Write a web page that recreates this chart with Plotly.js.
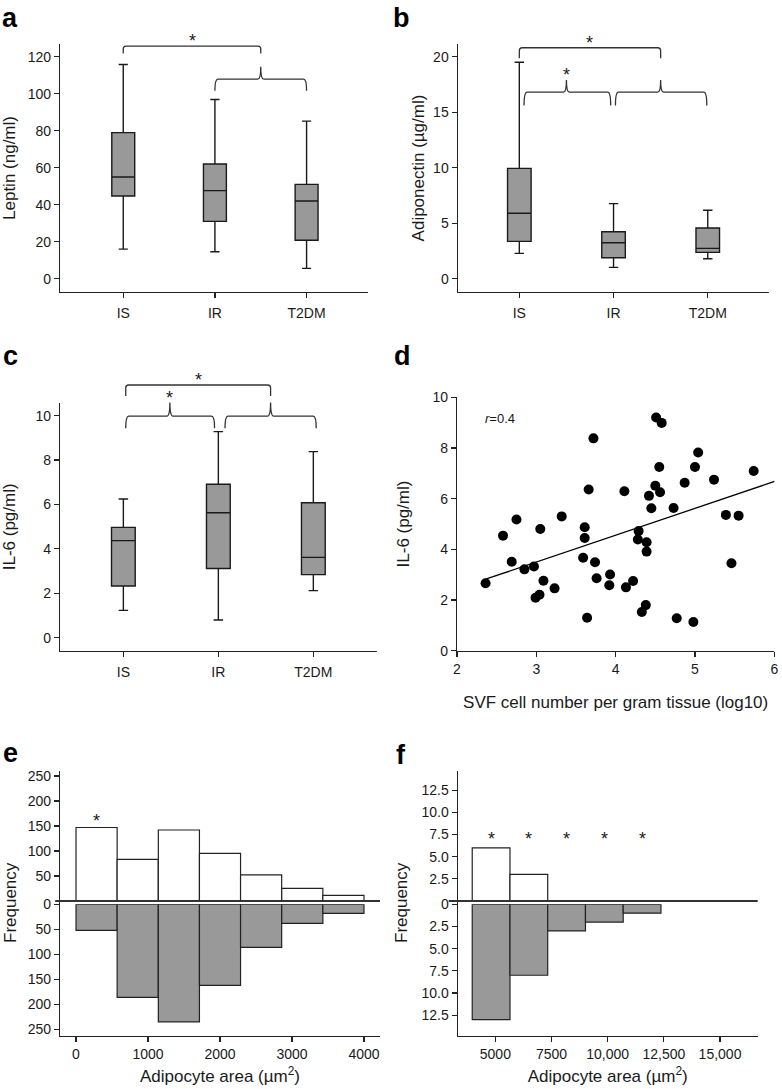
<!DOCTYPE html>
<html><head><meta charset="utf-8">
<script src="https://cdn.plot.ly/plotly-3.0.1.min.js"></script>
<style>html,body{margin:0;padding:0;background:#fff}#chart{width:782px;height:1089px}</style>
</head><body><div id="chart"></div>
<script>
// ---------- data ----------
const groups = ['IS', 'IR', 'T2DM'];

const leptinLow  = [16, 14.6, 5.6];
const leptinQ1   = [44.7, 31, 20.8];
const leptinMed  = [55, 47.6, 42];
const leptinQ3   = [79, 62, 51];
const leptinHigh = [115.8, 96.9, 85.2];

const adipoLow  = [2.28, 1.02, 1.8];
const adipoQ1   = [3.36, 1.89, 2.37];
const adipoMed  = [5.89, 3.24, 2.73];
const adipoQ3   = [9.94, 4.23, 4.56];
const adipoHigh = [19.5, 6.76, 6.16];

const il6Low  = [1.23, 0.8, 2.12];
const il6Q1   = [2.33, 3.12, 2.84];
const il6Med  = [4.37, 5.63, 3.62];
const il6Q3   = [4.97, 6.91, 6.08];
const il6High = [6.25, 9.28, 8.38];

const svfX = [2.36, 2.58, 2.75, 2.69, 2.85, 2.97, 3.05, 3.09, 2.99, 3.04, 3.23, 3.32, 3.61, 3.61, 3.59, 3.72, 3.66, 3.74, 3.76, 3.64,
              3.93, 3.92, 4.11, 4.13, 4.22, 4.29, 4.28, 4.39, 4.39, 4.38, 4.33, 4.42, 4.45, 4.50, 4.56, 4.55, 4.51, 4.58, 4.73, 4.87,
              5.00, 5.04, 4.77, 4.98, 5.24, 5.39, 5.55, 5.46, 5.74];
const svfIL6 = [2.66, 4.54, 5.18, 3.51, 3.21, 3.32, 4.80, 2.76, 2.09, 2.21, 2.46, 5.30, 4.87, 4.45, 3.67, 8.38, 6.36, 3.49, 2.86, 1.30,
                3.01, 2.58, 6.29, 2.50, 2.75, 4.72, 4.39, 4.28, 3.91, 1.80, 1.53, 6.11, 5.62, 6.51, 6.25, 7.25, 9.20, 8.99, 5.63, 6.63,
                7.25, 7.82, 1.28, 1.13, 6.75, 5.36, 5.33, 3.45, 7.09];
const fitX = [2.36, 6.06];
const fitY = [2.82, 6.74];
const rText = '<i>r</i>=0.4';

const eBinCenters = [286, 857, 1429, 2000, 2571, 3143, 3714];
const eBinWidth = 571;
const eUpper = [147, 83, 142, 95, 52, 25, 11];
const eLower = [52, 186, 235, 162, 86, 38, 18];
const eStarBins = [286];
const eTicks = [0, 1000, 2000, 3000, 4000];

const fBinCenters = [4810, 6490, 8170, 9850, 11530];
const fBinWidth = 1680;
const fUpperX = [4810, 6490];
const fUpper = [6, 3];
const fLower = [13, 8, 3, 2, 1];
const fStarBins = [4810, 6490, 8170, 9850, 11530];
const fTicks = [5000, 7500, 10000, 12500, 15000];
const fTickText = ['5000', '7500', '10,000', '12,500', '15,000'];
const fFreqTicks = [0, 2.5, 5, 7.5, 10, 12.5];
const fFreqText = ['0', '2.5', '5.0', '7.5', '10.0', '12.5'];
const eFreqTicks = [0, 50, 100, 150, 200, 250];

// ---------- geometry ----------
const W = 782, H = 1089;
const FONT = '"Liberation Sans", Arial, Helvetica, sans-serif';
const INK = '#1a1a1a';
const G = {
  a:  {x: [60, 368],     y: [44, 292],      xr: [-0.69, 2.67],  yr: [-7.2, 126.9]},
  b:  {x: [457.7, 769],  y: [44, 292],      xr: [-0.654, 2.65], yr: [-1.2, 21.14]},
  c:  {x: [60, 376.7],   y: [403, 650.7],   xr: [-0.667, 2.667], yr: [-0.585, 10.57]},
  d:  {x: [457, 774.3],  y: [397.3, 650.7], xr: [2, 6],         yr: [0, 10]},
  eU: {x: [60, 380],     y: [770.7, 904.3], xr: [-222, 4222],   yr: [-6.7, 260.6]},
  eL: {x: [60, 380],     y: [904.3, 1036],  xr: [-222, 4222],   yr: [263.4, 0]},
  fU: {x: [457.7, 757.7], y: [770.7, 904.3], xr: [3323, 16677], yr: [-0.37, 14.69]},
  fL: {x: [457.7, 757.7], y: [904.3, 1036],  xr: [3323, 16677], yr: [14.85, 0]}
};
const xd = g => [g.x[0] / W, g.x[1] / W];
const yd = g => [1 - g.y[1] / H, 1 - g.y[0] / H];
const px = (g, v) => (g.x[0] + (v - g.xr[0]) / (g.xr[1] - g.xr[0]) * (g.x[1] - g.x[0])) / W;
const py = (g, v) => 1 - (g.y[1] - (v - g.yr[0]) / (g.yr[1] - g.yr[0]) * (g.y[1] - g.y[0])) / H;

// ---------- traces ----------
function boxTrace(low, q1, med, q3, high, xa, ya) {
  return {type: 'box', x: groups, q1: q1, median: med, q3: q3, lowerfence: low, upperfence: high,
    xaxis: xa, yaxis: ya, width: 0.25, whiskerwidth: 0.4, fillcolor: '#999999',
    line: {color: INK, width: 1.4}, boxpoints: false, hoverinfo: 'skip', showlegend: false};
}
const barLine = {color: '#222', width: 1.2};
const traces = [
  boxTrace(leptinLow, leptinQ1, leptinMed, leptinQ3, leptinHigh, 'x', 'y'),
  boxTrace(adipoLow, adipoQ1, adipoMed, adipoQ3, adipoHigh, 'x2', 'y2'),
  boxTrace(il6Low, il6Q1, il6Med, il6Q3, il6High, 'x3', 'y3'),
  {type: 'scatter', mode: 'markers', x: svfX, y: svfIL6, xaxis: 'x4', yaxis: 'y4',
   marker: {color: '#000', size: 10}, cliponaxis: false, showlegend: false, hoverinfo: 'skip'},
  {type: 'scatter', mode: 'lines', x: fitX, y: fitY, xaxis: 'x4', yaxis: 'y4',
   line: {color: '#000', width: 1.3}, showlegend: false, hoverinfo: 'skip'},
  {type: 'bar', x: eBinCenters, y: eUpper, width: eBinWidth, xaxis: 'x5', yaxis: 'y5',
   marker: {color: '#ffffff', line: barLine}, showlegend: false, hoverinfo: 'skip'},
  {type: 'bar', x: eBinCenters, y: eLower, width: eBinWidth, xaxis: 'x5', yaxis: 'y6',
   marker: {color: '#999999', line: barLine}, showlegend: false, hoverinfo: 'skip'},
  {type: 'bar', x: fUpperX, y: fUpper, width: fBinWidth, xaxis: 'x7', yaxis: 'y7',
   marker: {color: '#ffffff', line: barLine}, showlegend: false, hoverinfo: 'skip'},
  {type: 'bar', x: fBinCenters, y: fLower, width: fBinWidth, xaxis: 'x7', yaxis: 'y8',
   marker: {color: '#999999', line: barLine}, showlegend: false, hoverinfo: 'skip'}
];

// ---------- axes ----------
const base = {showline: true, linecolor: '#222', linewidth: 1.2, ticks: 'outside', ticklen: 5, tickwidth: 1.2,
  tickcolor: '#222', showgrid: false, zeroline: false, fixedrange: true,
  tickfont: {family: FONT, size: 14, color: INK}};
const ttl = (t, s) => ({text: t, font: {family: FONT, size: 17, color: INK}, standoff: s});

const layout = {
  width: W, height: H, margin: {l: 0, r: 0, t: 0, b: 0}, paper_bgcolor: '#fff', plot_bgcolor: 'rgba(0,0,0,0)',
  showlegend: false, barmode: 'overlay', font: {family: FONT, color: INK},
  xaxis:  Object.assign({}, base, {domain: xd(G.a), range: G.a.xr, anchor: 'y', type: 'category', ticklabelstandoff: 3}),
  yaxis:  Object.assign({}, base, {domain: yd(G.a), range: G.a.yr, anchor: 'x', dtick: 20, title: ttl('Leptin (ng/ml)', 8)}),
  xaxis2: Object.assign({}, base, {domain: xd(G.b), range: G.b.xr, anchor: 'y2', type: 'category', ticklabelstandoff: 3}),
  yaxis2: Object.assign({}, base, {domain: yd(G.b), range: G.b.yr, anchor: 'x2', dtick: 5, title: ttl('Adiponectin (\u00b5g/ml)', 4)}),
  xaxis3: Object.assign({}, base, {domain: xd(G.c), range: G.c.xr, anchor: 'y3', type: 'category', ticklabelstandoff: 3}),
  yaxis3: Object.assign({}, base, {domain: yd(G.c), range: G.c.yr, anchor: 'x3', dtick: 2, title: ttl('IL-6 (pg/ml)', 16)}),
  xaxis4: Object.assign({}, base, {domain: xd(G.d), range: G.d.xr, anchor: 'y4', dtick: 1,
          title: ttl('SVF cell number per gram tissue (log10)', 20)}),
  yaxis4: Object.assign({}, base, {domain: yd(G.d), range: G.d.yr, anchor: 'x4', dtick: 2, title: ttl('IL-6 (pg/ml)', 18)}),
  xaxis5: Object.assign({}, base, {domain: xd(G.eL), range: G.eL.xr, anchor: 'y6', tickvals: eTicks,
          title: ttl('Adipocyte area (\u00b5m<sup>2</sup>)', 9)}),
  yaxis5: Object.assign({}, base, {domain: yd(G.eU), range: G.eU.yr, anchor: 'x5', tickvals: eFreqTicks.slice(1)}),
  yaxis6: Object.assign({}, base, {domain: yd(G.eL), range: G.eL.yr, anchor: 'x5', tickvals: eFreqTicks}),
  xaxis7: Object.assign({}, base, {domain: xd(G.fL), range: G.fL.xr, anchor: 'y8', tickvals: fTicks, ticktext: fTickText,
          title: ttl('Adipocyte area (\u00b5m<sup>2</sup>)', 9)}),
  yaxis7: Object.assign({}, base, {domain: yd(G.fU), range: G.fU.yr, anchor: 'x7', tickvals: fFreqTicks.slice(1), ticktext: fFreqText.slice(1)}),
  yaxis8: Object.assign({}, base, {domain: yd(G.fL), range: G.fL.yr, anchor: 'x7', tickvals: fFreqTicks, ticktext: fFreqText}),
  shapes: [], annotations: []
};

// ---------- brackets & annotations ----------
const brackets = [
  {g: 'a', kind: 'sq', x1: 0,     x2: 1.5,  bar: 125.8, end: 121.8, star: true},
  {g: 'a', kind: 'cb', x1: 1,     x2: 2,    xm: 1.5,  bar: 107.9, end: 101.6, tip: 114.6, star: false},
  {g: 'b', kind: 'sq', x1: 0,     x2: 1.5,  bar: 20.8,  end: 19.85, star: true},
  {g: 'b', kind: 'cb', x1: 0.05,  x2: 0.97, xm: 0.5,  bar: 16.8,  end: 15.6,  tip: 17.9, star: true},
  {g: 'b', kind: 'cb', x1: 1.02,  x2: 1.99, xm: 1.5,  bar: 16.8,  end: 15.6,  tip: 17.9, star: false},
  {g: 'c', kind: 'sq', x1: 0.025, x2: 1.55, bar: 11.38, end: 10.89, star: true},
  {g: 'c', kind: 'cb', x1: 0.025, x2: 0.96, xm: 0.49, bar: 9.98,  end: 9.43,  tip: 10.59, star: true},
  {g: 'c', kind: 'cb', x1: 1.07,  x2: 2.03, xm: 1.55, bar: 9.98,  end: 9.43,  tip: 10.59, star: false}
];
const rx = 3 / W, ry = 3 / H;
const starFont = {family: FONT, size: 18, color: INK};
brackets.forEach(b => {
  const g = G[b.g];
  const X1 = px(g, b.x1), X2 = px(g, b.x2), YB = py(g, b.bar), YE = py(g, b.end);
  let path, sx, sy;
  if (b.kind === 'sq') {
    path = `M ${X1},${YE} L ${X1},${YB - ry} Q ${X1},${YB} ${X1 + rx},${YB} L ${X2 - rx},${YB} Q ${X2},${YB} ${X2},${YB - ry} L ${X2},${YE}`;
    sx = (X1 + X2) / 2; sy = YB;
  } else {
    const XM = px(g, b.xm), YT = py(g, b.tip);
    path = `M ${X1},${YE} Q ${X1},${YB} ${X1 + rx},${YB} L ${XM - rx},${YB} Q ${XM},${YB} ${XM},${YT} ` +
           `Q ${XM},${YB} ${XM + rx},${YB} L ${X2 - rx},${YB} Q ${X2},${YB} ${X2},${YE}`;
    sx = XM; sy = YT;
  }
  layout.shapes.push({type: 'path', xref: 'paper', yref: 'paper', path: path, line: {color: '#333', width: 1.3}});
  if (b.star) {
    layout.annotations.push({xref: 'paper', yref: 'paper', x: sx, y: sy + 10 / H, text: '*', showarrow: false,
      xanchor: 'center', yanchor: 'middle', yshift: -5, font: starFont});
  }
});

// baselines in the mirrored histograms
[['eU', -0.015], ['fU', -0.03]].forEach(([k, ext]) => {
  const g = G[k];
  const y0 = py(g, 0);
  layout.shapes.push({type: 'line', xref: 'paper', yref: 'paper', x0: (g.x[0] + ext * (g.x[1] - g.x[0])) / W, x1: g.x[1] / W,
    y0: y0, y1: y0, line: {color: '#333', width: 2}});
});

// stars on histograms
eStarBins.forEach(v => layout.annotations.push({xref: 'x5', yref: 'y5', x: v, y: 170, text: '*', showarrow: false,
  yanchor: 'middle', yshift: -5, font: starFont}));
fStarBins.forEach(v => layout.annotations.push({xref: 'x7', yref: 'y7', x: v, y: 7.5, text: '*', showarrow: false,
  yanchor: 'middle', yshift: -5, font: starFont}));

// r value
layout.annotations.push({xref: 'x4', yref: 'y4', x: 2.33, y: 9.17, text: rText, showarrow: false,
  xanchor: 'left', yanchor: 'middle', font: {family: FONT, size: 13, color: INK}});

// Frequency titles
[[10, 903], [401, 903]].forEach(([x, y]) => layout.annotations.push({xref: 'paper', yref: 'paper', x: x / W, y: 1 - y / H,
  text: 'Frequency', textangle: -90, showarrow: false, xanchor: 'center', yanchor: 'middle',
  font: {family: FONT, size: 17, color: INK}}));

// panel letters
[['a', 10, 18], ['b', 401, 18], ['c', 10, 356], ['d', 402, 356], ['e', 10, 753], ['f', 401, 755]].forEach(([t, x, y]) =>
  layout.annotations.push({xref: 'paper', yref: 'paper', x: x / W, y: 1 - y / H, text: '<b>' + t + '</b>', showarrow: false,
    xanchor: 'center', yanchor: 'middle', font: {family: FONT, size: 27, color: '#000'}}));

Plotly.newPlot('chart', traces, layout, {staticPlot: true, displayModeBar: false});
</script>
</body></html>
